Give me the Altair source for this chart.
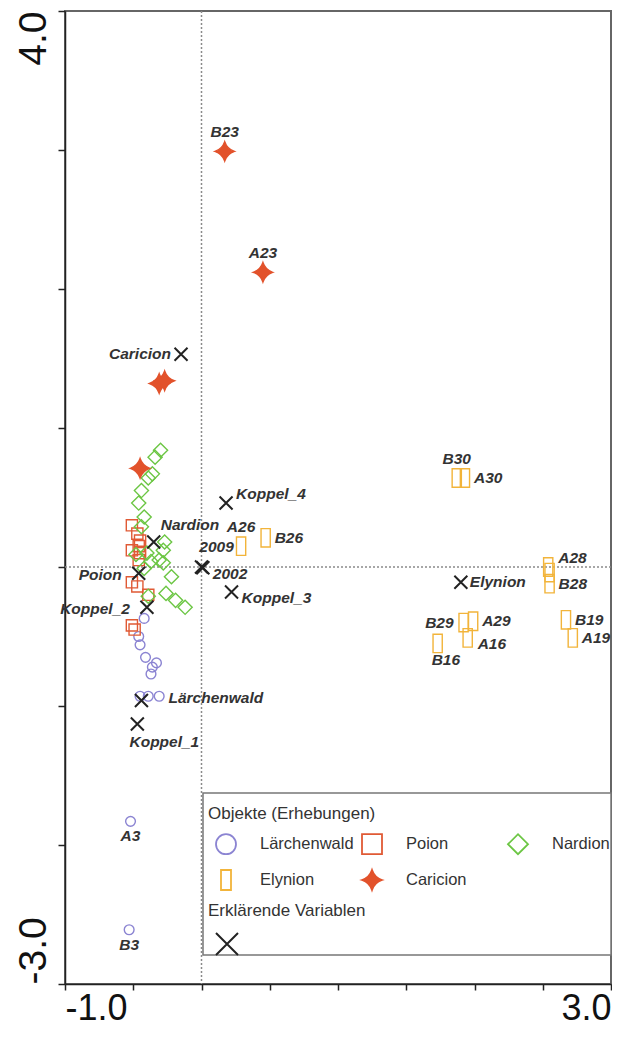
import altair as alt
import pandas as pd

FONT = "Liberation Sans"

# ---------------- data ----------------
groups = ["Lärchenwald", "Poion", "Nardion", "Elynion", "Caricion"]

lw_x = [-0.42, -0.46, -0.45, -0.41, -0.33, -0.36, -0.37, -0.45, -0.39, -0.31, -0.52, -0.53]
lw_y = [-0.37, -0.50, -0.56, -0.65, -0.69, -0.72, -0.77, -0.93, -0.93, -0.93, -1.83, -2.61]
lw_lab = ["", "", "", "", "", "", "", "", "", "", "A3", "B3"]

po_x = [-0.51, -0.47, -0.45, -0.46, -0.51, -0.45, -0.46, -0.51, -0.47, -0.39, -0.51, -0.49]
po_y = [0.30, 0.24, 0.19, 0.15, 0.12, 0.10, 0.05, -0.11, -0.14, -0.20, -0.42, -0.45]
po_lab = [""] * 12

na_x = [-0.30, -0.34, -0.36, -0.39, -0.44, -0.46, -0.42, -0.44, -0.27, -0.28, -0.40,
        -0.48, -0.37, -0.31, -0.28, -0.42, -0.22, -0.39, -0.26, -0.19, -0.12]
na_y = [0.84, 0.79, 0.67, 0.64, 0.55, 0.46, 0.36, 0.29, 0.18, 0.12, 0.10,
        0.09, 0.04, 0.05, 0.03, -0.01, -0.07, -0.21, -0.19, -0.24, -0.29]
na_lab = [""] * 21

el_x = [1.87, 1.93, 0.29, 0.47, 2.54, 2.55, 2.55, 1.92, 1.99, 1.95, 1.73, 2.67, 2.72]
el_y = [0.64, 0.64, 0.15, 0.21, 0.00, -0.04, -0.12, -0.40, -0.39, -0.51, -0.55, -0.38, -0.51]
el_lab = ["B30", "A30", "A26", "B26", "A28", "", "B28", "B29", "A29", "A16", "B16", "B19", "A19"]

ca_x = [0.17, 0.45, -0.31, -0.27, -0.45]
ca_y = [2.99, 2.12, 1.32, 1.34, 0.71]
ca_lab = ["B23", "A23", "", "", ""]

# label placement of sample names
sample_place = {
    "A3": "S", "B3": "S",
    "B30": "N", "A30": "E", "A26": "N", "B26": "E", "A28": "NE", "B28": "E",
    "B29": "W", "A29": "E", "A16": "SE", "B16": "S2", "B19": "E", "A19": "E",
    "B23": "N", "A23": "N",
}

# explanatory variables
var_title = "Erklärende Variablen"
var_names = ["Caricion", "Koppel_4", "Nardion", "2009", "2002", "Poion",
             "Koppel_2", "Koppel_3", "Lärchenwald", "Koppel_1", "Elynion"]
var_x = [-0.15, 0.18, -0.35, 0.00, 0.01, -0.46, -0.40, 0.22, -0.44, -0.47, 1.90]
var_y = [1.53, 0.46, 0.18, 0.00, -0.005, -0.045, -0.29, -0.18, -0.96, -1.13, -0.11]
var_place = ["W", "NE", "NE2", "N2", "SE", "W2", "W2", "SE", "E2", "S3", "E"]

# axis ticks and the end labels shown
x_ticks = [-1, -0.5, 0, 0.5, 1, 1.5, 2, 2.5, 3]
y_ticks = [-3, -2, -1, 0, 1, 2, 3, 4]
x_end_labels = {-1: "-1.0", 3: "3.0"}
y_end_labels = {4: "4.0", -3: "-3.0"}

# ---------------- styles ----------------
STAR = "M0,-1Q0.25,-0.25,1,0Q0.25,0.25,0,1Q-0.25,0.25,-1,0Q-0.25,-0.25,0,-1Z"
TALL_RECT = "M-0.5,-1L0.5,-1L0.5,1L-0.5,1Z"
X_PATH = "M-1,-1L1,1M-1,1L1,-1"

shape_range = ["circle", "square", "diamond", TALL_RECT, STAR]
stroke_range = ["#8b84d2", "#e05a35", "#6cc644", "#f2b43a", "#e2522b"]
fill_range = ["transparent", "transparent", "transparent", "transparent", "#e2522b"]
mark_size = {"Lärchenwald": 95, "Poion": 125, "Nardion": 200, "Elynion": 340, "Caricion": 380}

place_style = {
    "N": ("center", 0, -19),
    "N2": ("center", 15, -20),
    "S": ("center", 0, 15),
    "S2": ("left", -6, 17),
    "S3": ("center", 27, 18),
    "E": ("left", 9, 0),
    "E2": ("left", 27, -2),
    "W": ("right", -10, 0),
    "W2": ("right", -17, 2),
    "NE": ("left", 10, -9),
    "NE2": ("left", 7, -17),
    "SE": ("left", 10, 6),
}

W, H = 546, 973

# ---------------- tables ----------------
rows = []
for g, xs_, ys_, labs in [
    ("Lärchenwald", lw_x, lw_y, lw_lab),
    ("Poion", po_x, po_y, po_lab),
    ("Nardion", na_x, na_y, na_lab),
    ("Elynion", el_x, el_y, el_lab),
    ("Caricion", ca_x, ca_y, ca_lab),
]:
    for x, y, l in zip(xs_, ys_, labs):
        rows.append({"group": g, "x": x, "y": y, "label": l,
                     "place": sample_place.get(l, "")})
samples = pd.DataFrame(rows)

variables = pd.DataFrame({"kind": var_title, "x": var_x, "y": var_y,
                          "label": var_names, "place": var_place})

labels = pd.concat([samples[samples["label"] != ""][["x", "y", "label", "place"]],
                    variables[["x", "y", "label", "place"]]], ignore_index=True)


def end_label_expr(d):
    parts = " : ".join(f"datum.value == {k} ? '{v}'" for k, v in d.items())
    return parts + " : ''"


xs = alt.Scale(domain=[-1, 3], nice=False, zero=False)
ys = alt.Scale(domain=[-3, 4], nice=False, zero=False)

x_axis = alt.Axis(
    values=x_ticks, title=None, grid=False,
    labelExpr=end_label_expr(x_end_labels),
    labelAlign={"expr": "datum.value < 0 ? 'left' : 'right'"},
    labelBaseline="top", labelPadding=1, labelFontSize=36, labelFont=FONT,
    labelColor="#111", labelOverlap=False, tickSize=6, tickWidth=1.5,
    tickColor="#222", domainColor="#222", domainWidth=1.5,
)
y_axis = alt.Axis(
    values=y_ticks, title=None, grid=False,
    labelExpr=end_label_expr(y_end_labels),
    labelAngle=270,
    labelAlign={"expr": "datum.value > 0 ? 'right' : 'left'"},
    labelBaseline="alphabetic", labelPadding=13, labelFontSize=39, labelFont=FONT,
    labelColor="#111", labelOverlap=False, tickSize=7, tickWidth=1.5,
    tickColor="#222", domainColor="#222", domainWidth=1.5,
)

base_x = alt.X("x:Q", scale=xs, axis=x_axis)
base_y = alt.Y("y:Q", scale=ys, axis=y_axis)

zero = alt.Data(values=[{"v": 0}])
vline = alt.Chart(zero).mark_rule(color="#8a8a8a", strokeDash=[2, 2], strokeWidth=1.5).encode(
    x=alt.X("v:Q", scale=xs, axis=x_axis))
hline = alt.Chart(zero).mark_rule(color="#8a8a8a", strokeDash=[2, 2], strokeWidth=1.5).encode(
    y=alt.Y("v:Q", scale=ys, axis=y_axis))

legend_box = alt.Chart(alt.Data(values=[{}])).mark_rect(
    fill="white", stroke="#777", strokeWidth=1.5).encode(
    x=alt.value(138), x2=alt.value(W), y=alt.value(782), y2=alt.value(944))

obj_legend = alt.Legend(
    title="Objekte (Erhebungen)", orient="none", legendX=143, legendY=795,
    direction="horizontal", columns=3, gridAlign="all", columnPadding=0,
    rowPadding=8, padding=0,
    symbolSize=400, symbolStrokeWidth=1.8, symbolOffset=7, labelOffset=23,
    labelFont=FONT, labelFontSize=16.5, labelColor="#333", labelLimit=300,
    titleFont=FONT, titleFontSize=17, titleFontWeight="normal", titleColor="#333",
    titlePadding=10,
)

shape_enc = alt.Shape("group:N", scale=alt.Scale(domain=groups, range=shape_range), legend=obj_legend)
stroke_enc = alt.Stroke("group:N", scale=alt.Scale(domain=groups, range=stroke_range), legend=obj_legend)
fill_enc = alt.Fill("group:N", scale=alt.Scale(domain=groups, range=fill_range), legend=obj_legend)

point_layers = []
for g in groups:
    point_layers.append(
        alt.Chart(samples).transform_filter(alt.datum.group == g).mark_point(
            filled=False, strokeWidth=1.4, opacity=1, size=mark_size[g]
        ).encode(x=base_x, y=base_y, shape=shape_enc, stroke=stroke_enc, fill=fill_enc)
    )

var_legend = alt.Legend(
    title=var_title, orient="none", legendX=143, legendY=892, padding=0,
    symbolType=X_PATH, symbolSize=484, symbolStrokeColor="#222",
    symbolFillColor="transparent", symbolStrokeWidth=2, symbolOffset=7, labelExpr="''",
    titleFont=FONT, titleFontSize=17, titleFontWeight="normal", titleColor="#333",
    titlePadding=12,
)

crosses = alt.Chart(variables).mark_point(
    filled=False, shape=X_PATH, stroke="#222", strokeWidth=2, size=169).encode(
    x=base_x, y=base_y,
    opacity=alt.Opacity("kind:N", scale=alt.Scale(domain=[var_title], range=[1]),
                        legend=var_legend),
)

text_layers = []
for p, (al, dx, dy) in place_style.items():
    text_layers.append(
        alt.Chart(labels).transform_filter(alt.datum.place == p).mark_text(
            align=al, baseline="middle", dx=dx, dy=dy, font=FONT, fontSize=15.5,
            fontStyle="italic", fontWeight="bold", color="#333",
        ).encode(x=base_x, y=base_y, text="label:N")
    )

chart = alt.layer(vline, hline, legend_box, *point_layers, crosses, *text_layers).properties(
    width=W, height=H,
    padding={"left": 57, "top": 3, "right": 1, "bottom": 45},
    autosize=alt.AutoSizeParams(type="none"),
).configure_view(stroke="#666", strokeWidth=2)

chart.save("out.html", embed_options={"renderer": "svg", "actions": False})
